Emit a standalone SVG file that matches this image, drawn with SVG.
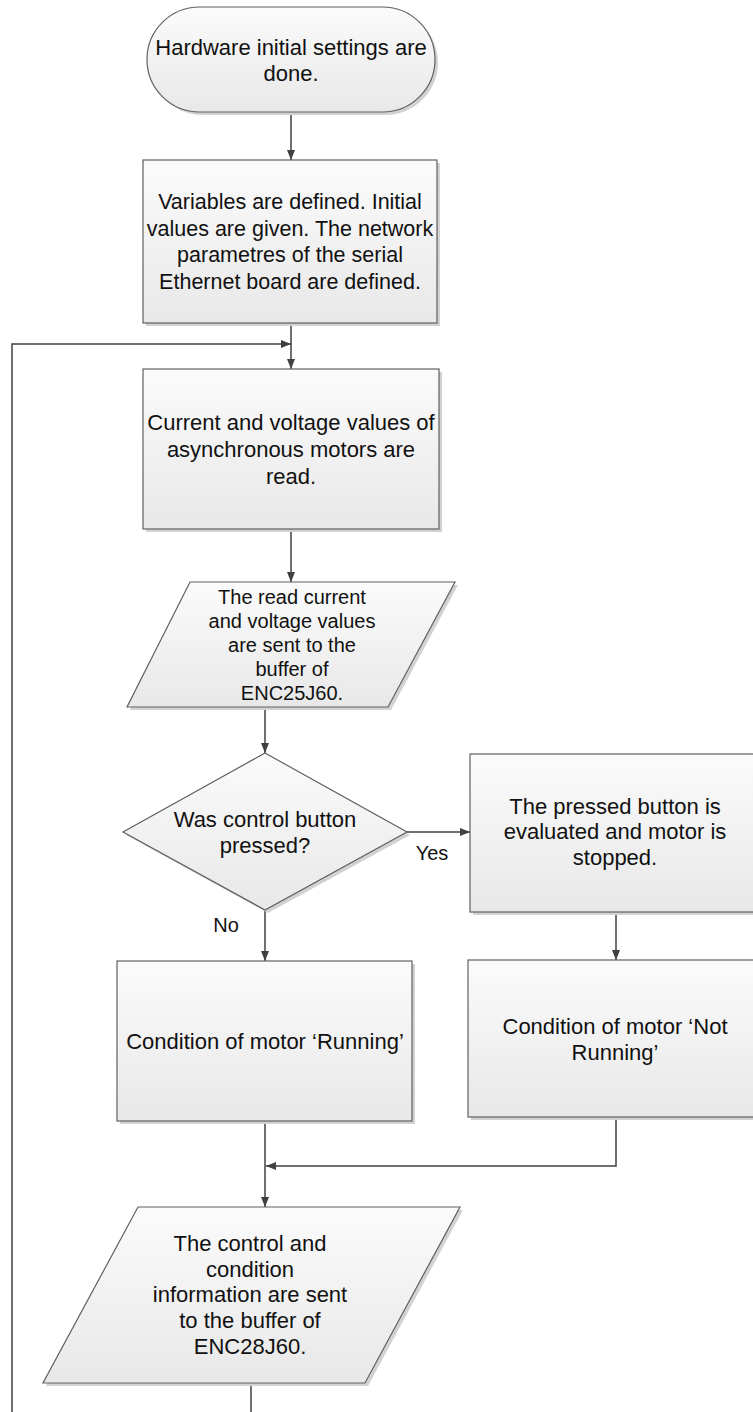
<svg xmlns="http://www.w3.org/2000/svg" width="753" height="1412" viewBox="0 0 753 1412">
<style>
.shape{fill:url(#g);stroke:#606060;stroke-width:1.2}
.shadow{fill:#d2d2d2;stroke:none}
.t{font-family:"Liberation Sans",Arial,sans-serif;font-size:22px;fill:#111;text-anchor:middle}
.s{font-size:20px}
.m{font-size:21.5px}
.lbl{font-family:"Liberation Sans",Arial,sans-serif;font-size:20px;fill:#111;text-anchor:middle}
.c{fill:none;stroke:#404040;stroke-width:1.5}
</style>
<defs>
<linearGradient id="g" x1="0" y1="0" x2="0" y2="1">
<stop offset="0" stop-color="#fbfbfb"/>
<stop offset="1" stop-color="#e8e8e8"/>
</linearGradient>
<marker id="a" markerWidth="10" markerHeight="8" refX="10" refY="4" orient="auto" markerUnits="userSpaceOnUse">
<path d="M0,0 L10,4 L0,8 z" fill="#404040"/>
</marker>
</defs>
<rect width="753" height="1412" fill="#fff"/>

<g id="connectors">
<path class="c" d="M291,112 V160" marker-end="url(#a)"/>
<path class="c" d="M291,323 V369" marker-end="url(#a)"/>
<path class="c" d="M12,1412 V344 H291" marker-end="url(#a)"/>
<path class="c" d="M291,529 V582" marker-end="url(#a)"/>
<path class="c" d="M265,707 V753" marker-end="url(#a)"/>
<path class="c" d="M407,832 H470" marker-end="url(#a)"/>
<path class="c" d="M265,910 V961" marker-end="url(#a)"/>
<path class="c" d="M616,912 V960" marker-end="url(#a)"/>
<path class="c" d="M616,1117 V1166 H266" marker-end="url(#a)"/>
<path class="c" d="M265,1121 V1207" marker-end="url(#a)"/>
<path class="c" d="M251,1383 V1412"/>
</g>

<g id="start">
<rect class="shadow" x="150" y="10" width="288" height="105" rx="52.5"/>
<rect class="shape" x="147" y="7" width="288" height="105" rx="52.5"/>
<text class="t"><tspan x="291" y="55">Hardware initial settings are</tspan><tspan x="291" y="81">done.</tspan></text>
</g>

<g id="init">
<rect class="shadow" x="146" y="163" width="294" height="163"/>
<rect class="shape" x="143" y="160" width="294" height="163"/>
<text class="t m"><tspan x="290" y="209">Variables are defined. Initial</tspan><tspan x="290" y="236">values are given. The network</tspan><tspan x="290" y="262">parametres of the serial</tspan><tspan x="290" y="289">Ethernet board are defined.</tspan></text>
</g>

<g id="read">
<rect class="shadow" x="146" y="372" width="296" height="160"/>
<rect class="shape" x="143" y="369" width="296" height="160"/>
<text class="t"><tspan x="291" y="430">Current and voltage values of</tspan><tspan x="291" y="457">asynchronous motors are</tspan><tspan x="291" y="484">read.</tspan></text>
</g>

<g id="send1">
<polygon class="shadow" points="193,585 458,585 391,710 130,710"/>
<polygon class="shape" points="190,582 455,582 388,707 127,707"/>
<text class="t s"><tspan x="292" y="604">The read current</tspan><tspan x="292" y="628">and voltage values</tspan><tspan x="292" y="652">are sent to the</tspan><tspan x="292" y="676">buffer of</tspan><tspan x="292" y="700">ENC25J60.</tspan></text>
</g>

<g id="decision">
<polygon class="shadow" points="268,756 410,835 268,913 126,835"/>
<polygon class="shape" points="265,753 407,832 265,910 123,832"/>
<text class="t"><tspan x="265" y="827">Was control button</tspan><tspan x="265" y="853">pressed?</tspan></text>
<text class="lbl" x="432" y="860">Yes</text>
<text class="lbl" x="226" y="932">No</text>
</g>

<g id="evaluate">
<rect class="shadow" x="473" y="757" width="300" height="158"/>
<rect class="shape" x="470" y="754" width="300" height="158"/>
<text class="t"><tspan x="615" y="814">The pressed button is</tspan><tspan x="615" y="839">evaluated and motor is</tspan><tspan x="615" y="865">stopped.</tspan></text>
</g>

<g id="notrunning">
<rect class="shadow" x="471" y="963" width="300" height="157"/>
<rect class="shape" x="468" y="960" width="300" height="157"/>
<text class="t"><tspan x="615" y="1034">Condition of motor ‘Not</tspan><tspan x="615" y="1060">Running’</tspan></text>
</g>

<g id="running">
<rect class="shadow" x="120" y="964" width="295" height="160"/>
<rect class="shape" x="117" y="961" width="295" height="160"/>
<text class="t" x="265" y="1049">Condition of motor ‘Running’</text>
</g>

<g id="send2">
<polygon class="shadow" points="141,1210 463,1210 368,1386 46,1386"/>
<polygon class="shape" points="138,1207 460,1207 365,1383 43,1383"/>
<text class="t"><tspan x="250" y="1251">The control and</tspan><tspan x="250" y="1277">condition</tspan><tspan x="250" y="1302">information are sent</tspan><tspan x="250" y="1328">to the buffer of</tspan><tspan x="250" y="1354">ENC28J60.</tspan></text>
</g>
</svg>
